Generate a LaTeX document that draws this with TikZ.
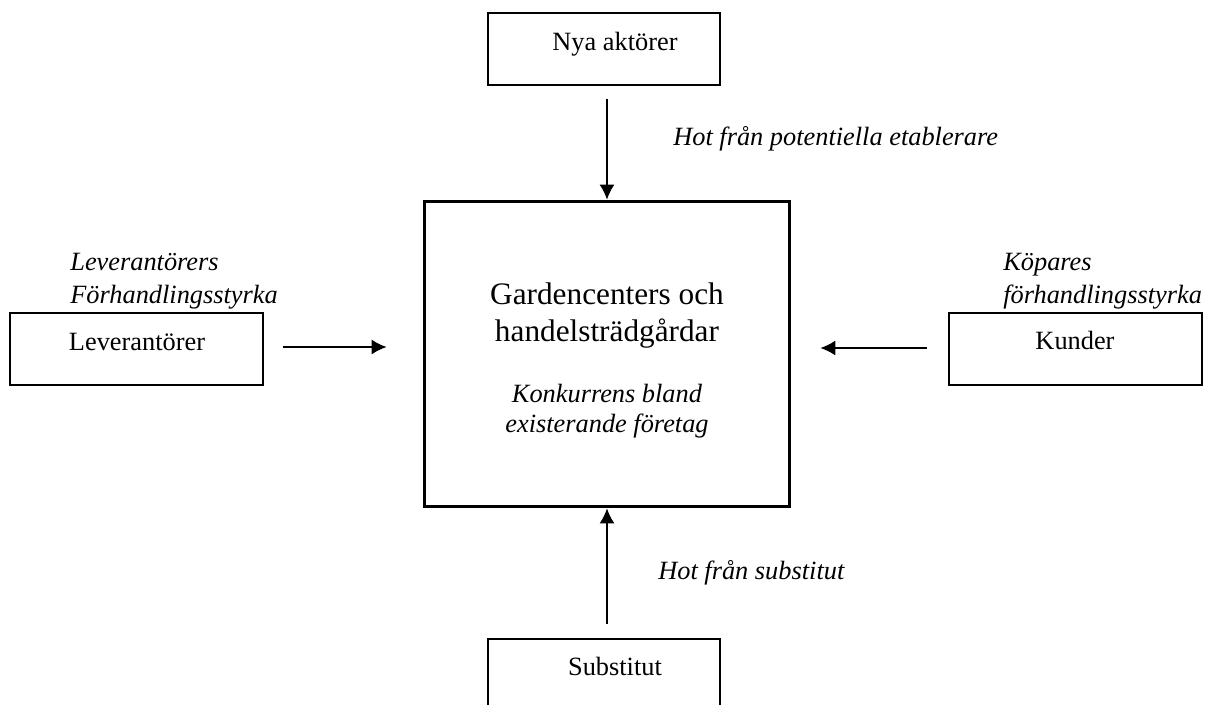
\documentclass[tikz,border=0pt]{standalone}
\usepackage{fontspec}
\setmainfont{Liberation Serif}
\usetikzlibrary{arrows.meta,positioning}
\tikzset{
    box/.style={
           rectangle,
           draw=black, line width=1pt,
           inner sep=0pt,
           },
}
\tikzset{
    mainbox/.style={
           rectangle,
           draw=black, line width=1.7pt,
           inner sep=0pt,
           minimum width=7.32cm, minimum height=6.12cm,
           },
}
\tikzset{
    force/.style={
           -{Latex[length=8.5pt,width=8.5pt]},
           line width=0.7pt,
           },
}
\tikzset{
    txt/.style={
           inner sep=0pt, anchor=base,
           font=\fontsize{15}{18.7}\selectfont,
           },
    itxt/.style={txt, font=\fontsize{15}{18.7}\selectfont\itshape},
    bigtxt/.style={txt, font=\fontsize{17.8}{21}\selectfont},
}

\begin{document}
\begin{tikzpicture}[x=0.02cm,y=-0.02cm]
\useasboundingbox (0,0) rectangle (1215,704);
\clip (0,0) rectangle (1215,704);
% boxes
\node[box,minimum width=4.64cm,minimum height=1.44cm](nya) at (604,49){};
\node[mainbox](main) at (607,354){};
\node[box,minimum width=5.06cm,minimum height=1.44cm](lev) at (136.5,349){};
\node[box,minimum width=5.06cm,minimum height=1.44cm](kund) at (1075.5,349){};
\node[box,minimum width=4.64cm,minimum height=1.44cm](subst) at (604,675){};
% box texts
\node[txt](nyatxt) at (615,50){Nya akt\"orer};
\node[txt](levtxt) at (137,350){Leverant\"orer};
\node[txt](kundtxt) at (1075,349){Kunder};
\node[txt](substtxt) at (615,675){Substitut};
\node[bigtxt](title1) at (607,304){Gardencenters och};
\node[bigtxt](title2) at (607,341){handelstr\"adg\aa rdar};
\node[itxt](konk1) at (607,402){Konkurrens bland};
\node[itxt](konk2) at (607,432){existerande f\"oretag};
% force labels
\node[itxt,anchor=base west](hot1) at (673,145){Hot fr\aa n potentiella etablerare};
\node[itxt,anchor=base west](hot2) at (658,579){Hot fr\aa n substitut};
\node[itxt,anchor=base west](lev1) at (70,270){Leverant\"orers};
\node[itxt,anchor=base west](lev2) at (70,303){F\"orhandlingsstyrka};
\node[itxt,anchor=base west](kop1) at (1003,270){K\"opares};
\node[itxt,anchor=base west](kop2) at (1003,303){f\"orhandlingsstyrka};
% arrows
\draw[force,shorten <=0.26cm] (nya.south -| main.north) -- (main.north);
\draw[force,shorten <=0.28cm] (subst.north -| main.south) -- (main.south);
\draw[force,shorten <=0.38cm,shorten >=0.72cm] ([yshift=0.04cm]lev.east) -- ([yshift=0.04cm]lev.east -| main.west);
\draw[force,shorten <=0.42cm,shorten >=0.58cm] ([yshift=0.02cm]kund.west) -- ([yshift=0.02cm]kund.west -| main.east);
\end{tikzpicture}
\end{document}
